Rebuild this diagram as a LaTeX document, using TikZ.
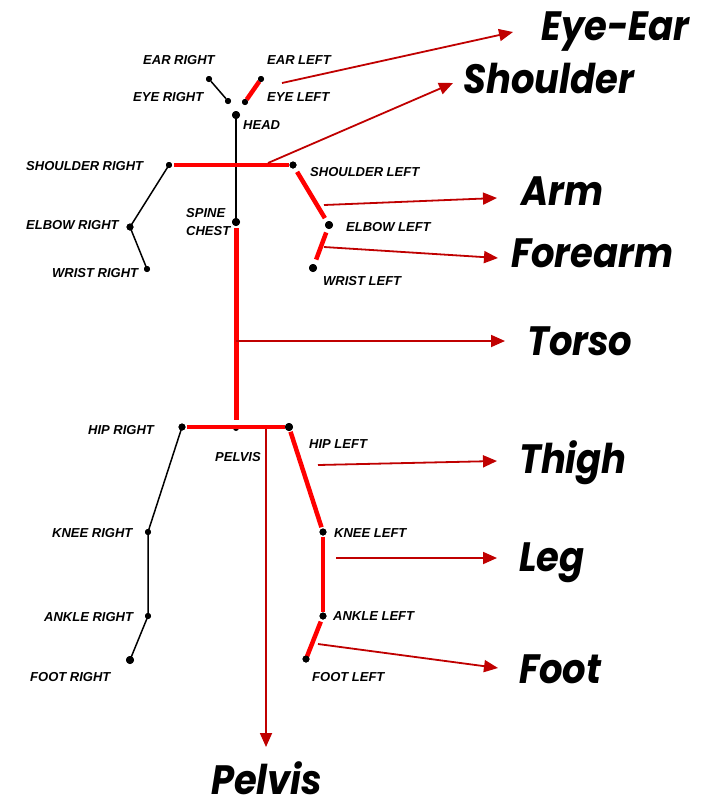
\documentclass[tikz,border=0pt]{standalone}
\usepackage{fontspec}
\usetikzlibrary{arrows.meta}
\newfontfamily\labfont{Liberation Sans}
\newfontfamily\bigfont{Poppins}
\definecolor{bonered}{HTML}{FF0000}
\definecolor{arrred}{HTML}{C00000}
\newcommand{\bigtxt}[1]{\scalebox{0.9}[1]{#1}}
\begin{document}
\begin{tikzpicture}[x=1pt,y=-1pt,
  bone/.style={black,line width=1.5pt},
  redbone/.style={bonered,line width=4.5pt},
  joint/.style={circle,fill=black,inner sep=0pt,minimum size=#1},
  joint/.default=6pt,
  lab/.style={anchor=west,inner sep=0pt,font=\labfont\bfseries\itshape\fontsize{13}{18}\selectfont,align=left},
  big/.style={anchor=base west,inner sep=0pt,font=\bigfont\bfseries\itshape\fontsize{41}{48}\selectfont},
  arr/.style={arrred,line width=1.8pt,-{Triangle[length=14pt,width=12pt]}}]
\useasboundingbox[fill=white] (0,0) rectangle (710,801);
% joints
\node[joint] (earR) at (209,79) {};
\node[joint] (eyeR) at (228,101) {};
\node[joint] (earL) at (261,79) {};
\node[joint] (eyeL) at (245,102) {};
\node[joint=8pt] (head) at (236,115) {};
\node[joint] (shR) at (169,165) {};
\node[joint=7pt] (shL) at (293,165) {};
\node[joint=7pt] (elR) at (130,227) {};
\node[joint] (wrR) at (147,269) {};
\node[joint=8pt] (spine) at (236,222) {};
\node[joint=8pt] (elL) at (329,225) {};
\node[joint=8pt] (wrL) at (313,268) {};
\node[joint=7pt] (hipR) at (182,427) {};
\node[joint] (pelvis) at (236,428) {};
\node[joint=8pt] (hipL) at (289,427) {};
\node[joint] (kneeR) at (148,532) {};
\node[joint=7pt] (kneeL) at (323,532) {};
\node[joint] (ankR) at (148,616) {};
\node[joint=7pt] (ankL) at (323,616) {};
\node[joint=8pt] (footR) at (130,660) {};
\node[joint=7pt] (footL) at (306,659) {};
% black bones
\draw[bone] (earR) -- (eyeR);
\draw[bone] (head.center) -- (spine.center);
\draw[bone] (shR.center) -- (elR.center) -- (wrR.center);
\draw[bone] (hipR.center) -- (kneeR.center) -- (ankR.center) -- (footR.center);
% red bones
\draw[redbone,shorten <=3pt,shorten >=3pt] (eyeL.center) -- (earL.center);
\draw[redbone,shorten <=5pt,shorten >=4pt] (shR.center) -- (shL.center);
\draw[redbone,shorten <=8pt,shorten >=8pt] (shL.center) -- (elL.center);
\draw[redbone,shorten <=8pt,shorten >=9pt] (elL.center) -- (wrL.center);
\draw[redbone,line width=5pt,shorten <=6pt] (spine.center) -- (236,420);
\draw[redbone,shorten <=5pt,shorten >=4pt] (hipR.center) -- (hipL.center);
\draw[redbone,shorten <=5pt,shorten >=5pt] (hipL.center) -- (kneeL.center);
\draw[redbone,shorten <=5pt,shorten >=4pt] (kneeL.center) -- (ankL.center);
\draw[redbone,shorten <=6pt,shorten >=2pt] (ankL.center) -- (footL.center);
% redraw joints on top
\foreach \j/\s in {earR/6pt,eyeR/6pt,earL/6pt,eyeL/6pt,head/8pt,shR/6pt,shL/7pt,elR/7pt,wrR/6pt,spine/8pt,elL/8pt,wrL/8pt,hipR/7pt,hipL/8pt,kneeR/6pt,kneeL/7pt,ankR/6pt,ankL/7pt,footR/8pt,footL/7pt}
  \fill (\j) circle[radius=\s/2];
% small labels
\node[lab] (tEarR) at (143,60) {EAR RIGHT};
\node[lab] (tEarL) at (267,60) {EAR LEFT};
\node[lab] (tEyeR) at (133,97) {EYE RIGHT};
\node[lab] (tEyeL) at (267,97) {EYE LEFT};
\node[lab] (tHead) at (243,125) {HEAD};
\node[lab] (tShR) at (26,166) {SHOULDER RIGHT};
\node[lab] (tShL) at (310,172) {SHOULDER LEFT};
\node[lab] (tSpine) at (186,222) {SPINE\\CHEST};
\node[lab] (tElR) at (26,225) {ELBOW RIGHT};
\node[lab] (tElL) at (346,227) {ELBOW LEFT};
\node[lab] (tWrR) at (52,273) {WRIST RIGHT};
\node[lab] (tWrL) at (323,281) {WRIST LEFT};
\node[lab] (tHipR) at (88,430) {HIP RIGHT};
\node[lab] (tPelvis) at (215,457) {PELVIS};
\node[lab] (tHipL) at (309,444) {HIP LEFT};
\node[lab] (tKneeR) at (52,533) {KNEE RIGHT};
\node[lab] (tKneeL) at (334,533) {KNEE LEFT};
\node[lab] (tAnkR) at (44,617) {ANKLE RIGHT};
\node[lab] (tAnkL) at (333,616) {ANKLE LEFT};
\node[lab] (tFootR) at (30,677) {FOOT RIGHT};
\node[lab] (tFootL) at (312,677) {FOOT LEFT};
% big labels
\node[big] (bEye) at (541,40) {\bigtxt{Eye-Ear}};
\node[big] (bSh) at (463,93) {\bigtxt{Shoulder}};
\node[big] (bArm) at (521,205) {\bigtxt{Arm}};
\node[big] (bFore) at (511,267) {\bigtxt{Forearm}};
\node[big] (bTorso) at (527,355) {\bigtxt{Torso}};
\node[big] (bThigh) at (519,473) {\bigtxt{Thigh}};
\node[big] (bLeg) at (519,571) {\bigtxt{Leg}};
\node[big] (bFoot) at (519,683) {\bigtxt{Foot}};
\node[big] (bPelvis) at (211,794) {\bigtxt{Pelvis}};
% arrow coordinates
\coordinate (sEye) at (282,83);   \coordinate (eEye) at (513,32);
\coordinate (sSh) at (268,163);   \coordinate (eSh) at (453,83);
\coordinate (sArm) at (324,205);  \coordinate (eArm) at (497,198);
\coordinate (sFore) at (324,247); \coordinate (eFore) at (498,258);
\coordinate (sTorso) at (236,341);\coordinate (eTorso) at (505,341);
\coordinate (sThigh) at (318,465);\coordinate (eThigh) at (497,461);
\coordinate (sLeg) at (336,558);  \coordinate (eLeg) at (497,558);
\coordinate (sFoot) at (318,644); \coordinate (eFoot) at (498,668);
\coordinate (sPelvis) at (266,429);\coordinate (ePelvis) at (266,747);
\draw[arr] (sEye) -- (eEye);
\draw[arr] (sSh) -- (eSh);
\draw[arr] (sArm) -- (eArm);
\draw[arr] (sFore) -- (eFore);
\draw[arr] (sTorso) -- (eTorso);
\draw[arr] (sThigh) -- (eThigh);
\draw[arr] (sLeg) -- (eLeg);
\draw[arr] (sFoot) -- (eFoot);
\draw[arr] (sPelvis) -- (ePelvis);
\end{tikzpicture}
\end{document}
